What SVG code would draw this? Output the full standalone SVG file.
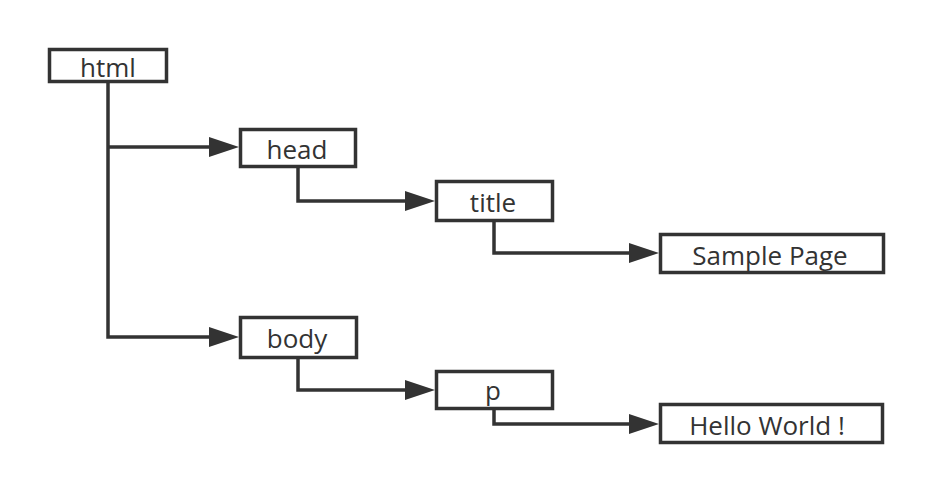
<svg xmlns="http://www.w3.org/2000/svg" width="932" height="494" viewBox="0 0 932 494">
<style>
.box rect{fill:#fff;stroke:#333;stroke-width:3.5}
.box text{font-family:"Open Sans","Noto Sans",sans-serif;font-size:26px;fill:#333;text-anchor:middle}
.conn path{fill:none;stroke:#333;stroke-width:3.5;marker-end:url(#arr)}
</style>
<defs>
<marker id="arr" markerUnits="userSpaceOnUse" markerWidth="30" markerHeight="22" refX="0" refY="11" orient="auto" viewBox="0 0 30 22">
<path d="M0,1 L30,11 L0,21 Z" fill="#333"/>
</marker>
</defs>
<rect width="932" height="494" fill="#fff"/>
<g class="conn" id="connectors">
<path d="M108,83 V337 H209"/>
<path d="M108,147 H209"/>
<path d="M298,168 V201 H405"/>
<path d="M494,222 V253 H629"/>
<path d="M298,359 V390 H405"/>
<path d="M494,410 V424 H629"/>
</g>
<g class="box" id="html"><rect x="49.5" y="49.5" width="117" height="32"/><text x="108" y="77">html</text></g>
<g class="box" id="head"><rect x="240.5" y="129.5" width="115" height="37"/><text x="297" y="159">head</text></g>
<g class="box" id="title"><rect x="436.5" y="181.5" width="116" height="39"/><text x="493" y="212">title</text></g>
<g class="box" id="sample"><rect x="660.5" y="234.5" width="223" height="38"/><text x="770" y="265">Sample Page</text></g>
<g class="box" id="body"><rect x="240.5" y="317.5" width="116" height="40"/><text x="297" y="348">body</text></g>
<g class="box" id="p"><rect x="436.5" y="371.5" width="116" height="37"/><text x="493" y="400">p</text></g>
<g class="box" id="hello"><rect x="660.5" y="404.5" width="222" height="38"/><text x="767" y="435">Hello World !</text></g>
</svg>
